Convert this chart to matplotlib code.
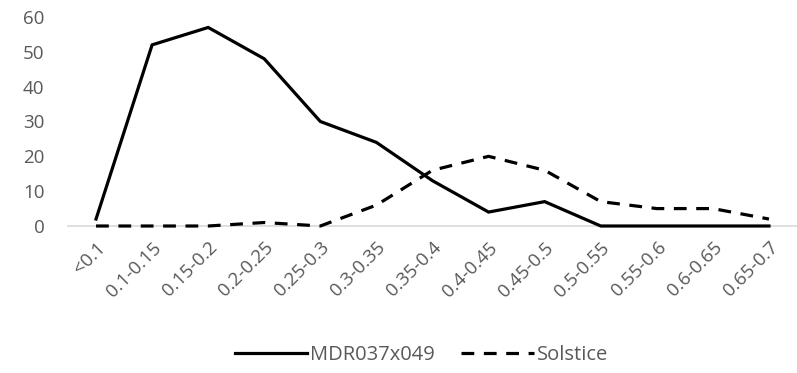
import matplotlib.pyplot as plt

categories = ["<0.1", "0.1-0.15", "0.15-0.2", "0.2-0.25", "0.25-0.3", "0.3-0.35",
              "0.35-0.4", "0.4-0.45", "0.45-0.5", "0.5-0.55", "0.55-0.6",
              "0.6-0.65", "0.65-0.7"]
mdr = [2, 52, 57, 48, 30, 24, 13, 4, 7, 0, 0, 0, 0]
solstice = [0, 0, 0, 1, 0, 6, 16, 20, 16, 7, 5, 5, 2]
yticks = [0, 10, 20, 30, 40, 50, 60]

plt.rcParams['font.family'] = ['Open Sans', 'DejaVu Sans']
grey = '#595959'

fig = plt.figure(figsize=(7.97, 3.73), dpi=100)
W, H = 797, 373
ax = fig.add_axes([68 / W, 1 - 226 / H, (797 - 68) / W, (226 - 17) / H])

x = list(range(len(categories)))
ax.plot(x, mdr, color='black', linewidth=2.3, label='MDR037x049',
        solid_joinstyle='miter', clip_on=False, zorder=3)
ax.plot(x, solstice, color='black', linewidth=2.3, linestyle=(0, (4.0, 3.0)),
        label='Solstice', clip_on=False, zorder=3)

ax.set_xlim(-0.5, len(categories) - 0.5)
ax.set_ylim(0, 60)
ax.set_yticks(yticks)
ax.set_xticks(x)
ax.set_xticklabels(categories, rotation=45, ha='right', rotation_mode='anchor')

for side in ['top', 'right', 'left']:
    ax.spines[side].set_visible(False)
ax.spines['bottom'].set_color('#d9d9d9')
ax.spines['bottom'].set_linewidth(1.2)
ax.tick_params(axis='both', length=0, colors=grey, labelsize=13.5)
ax.tick_params(axis='y', pad=17)
ax.tick_params(axis='x', pad=9)

leg = ax.legend(loc='center', bbox_to_anchor=(0.485, (226 - 355) / (226 - 17)),
                ncol=2, frameon=False, fontsize=14.5, handlelength=3.6,
                columnspacing=1.3, handletextpad=0.15)
for t in leg.get_texts():
    t.set_color(grey)

fig.savefig('out.png', dpi=100)
